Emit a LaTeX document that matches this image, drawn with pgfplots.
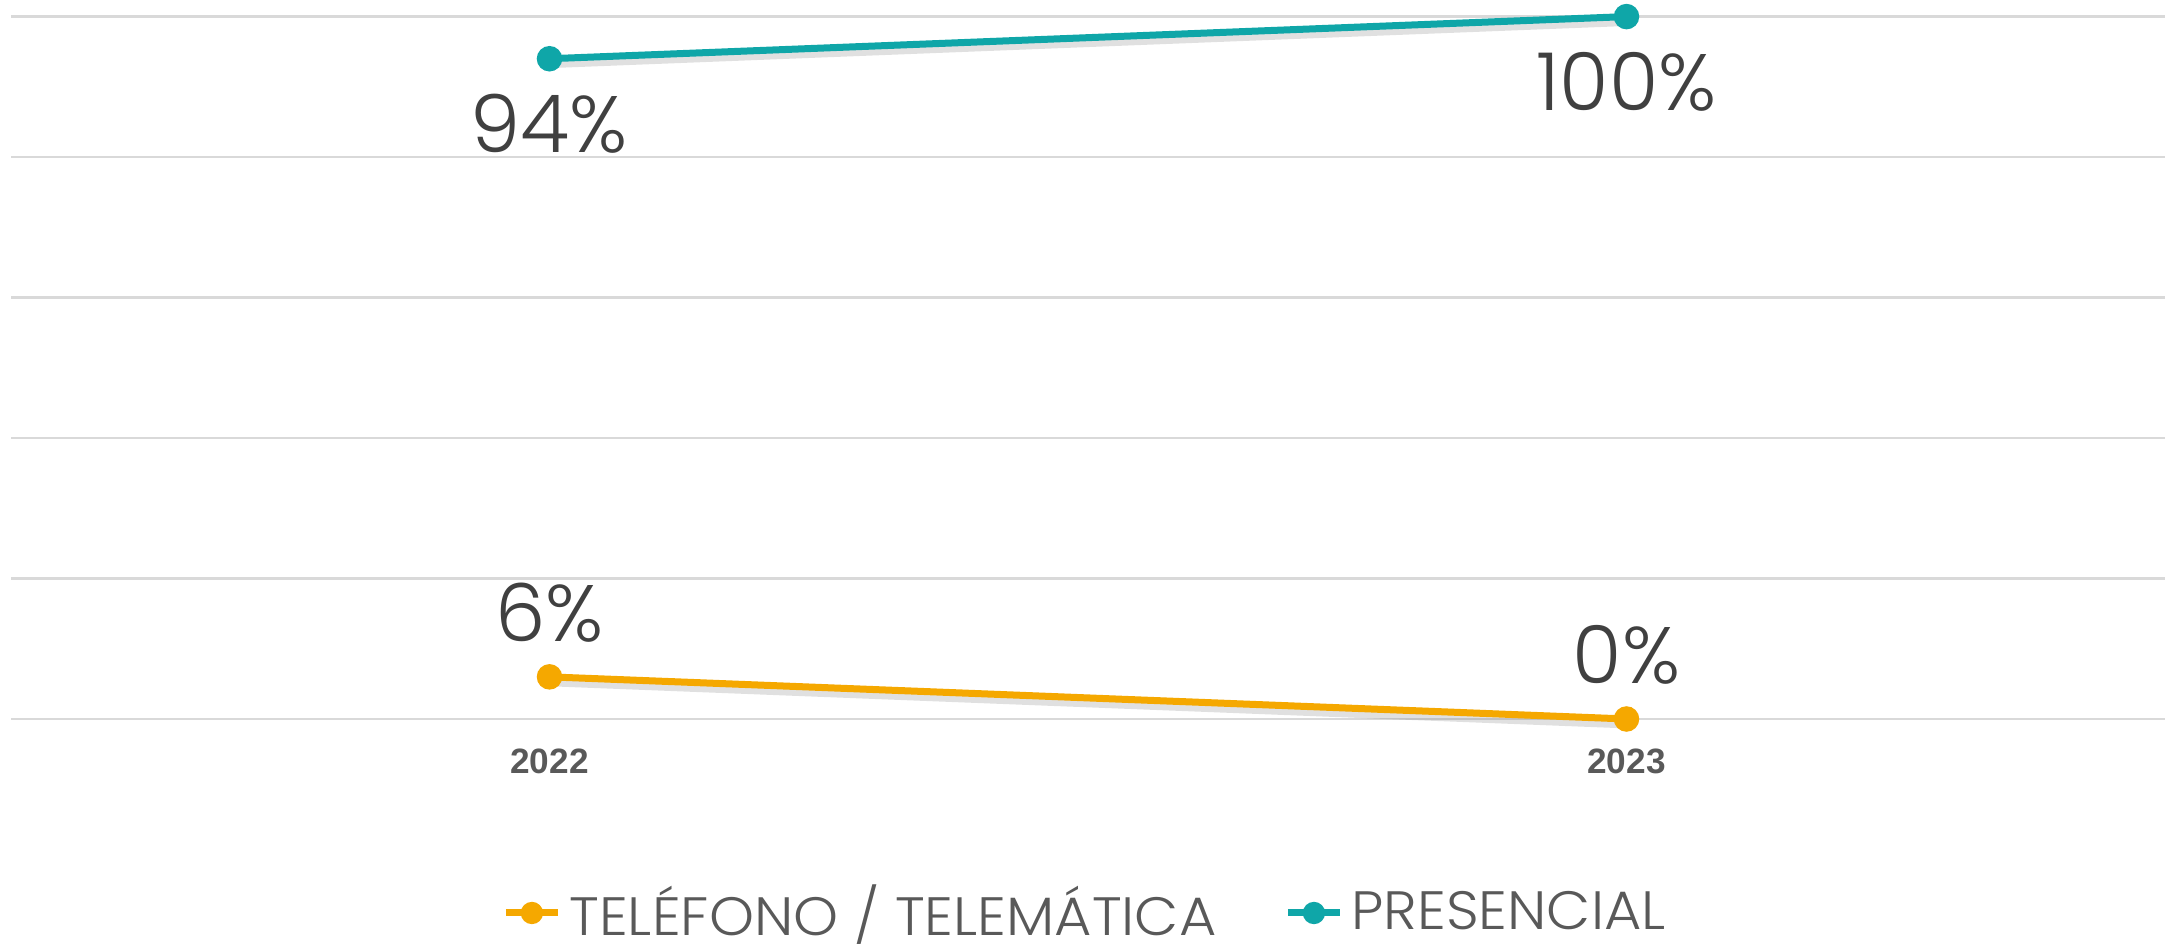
\documentclass[border=0pt]{standalone}
\usepackage{fontspec}
\setmainfont{Poppins}[UprightFont={* Light}, BoldFont={* SemiBold}]
\newfontfamily\legfont{Poppins}[UprightFont={* Light}, FakeStretch=1.06]
\newfontfamily\tickfont{Liberation Sans}
\usepackage{pgfplots}
\pgfplotsset{compat=1.18}
\definecolor{teal1}{HTML}{0FA6A8}
\definecolor{orange1}{HTML}{F5A800}
\definecolor{lab}{HTML}{404040}
\definecolor{tick}{HTML}{595959}
\definecolor{gridc}{HTML}{D9D9D9}
\begin{document}
\begin{tikzpicture}
\begin{axis}[
  at={(0,0)}, anchor=south west,
  scale only axis, width=538.5pt, height=175.6pt,
  xmin=-0.5, xmax=1.5, ymin=0, ymax=100,
  clip=false,
  /pgf/number format/assume math mode=true,
  axis line style={draw=none},
  major tick length=0pt,
  xtick={0,1}, xticklabels={2022,2023},
  xticklabel style={anchor=center, yshift=-10.5pt, font=\tickfont\bfseries\fontsize{8.8}{9}\selectfont, text=tick},
  ytick={0,20,40,60,80,100}, yticklabels={},
  ymajorgrids, grid style={gridc, line width=0.6pt},
  legend style={at={(0.5,0)}, anchor=center, yshift=-48.5pt, draw=none, fill=none,
    legend columns=2, font=\legfont\fontsize{13.5}{14}\selectfont, text=tick,
    /tikz/every even column/.append style={column sep=15pt},
    /tikz/every odd column/.append style={inner xsep=0.5pt}},
  legend image code/.code={
    \draw[#1, mark=none] (0pt,0pt) -- (13pt,0pt);
    \fill[#1] (6.5pt,0pt) circle (1.9pt);
  },
  nodes near coords={\pgfmathprintnumber{\pgfplotspointmeta}\%},
  every node near coord/.append style={font=\fontsize{20}{24}\selectfont, text=lab, anchor=center},
]
% shadows
\addplot[black!60, opacity=0.2, line width=1.9pt, yshift=-1.4pt, forget plot, nodes near coords={}] coordinates {(0,6) (1,0)};
\addplot[black!60, opacity=0.2, line width=1.9pt, yshift=-1.4pt, forget plot, nodes near coords={}] coordinates {(0,94) (1,100)};
\addplot[orange1, line width=1.75pt, mark=*, mark size=2.3pt, mark options={fill=orange1, draw=orange1},
  every node near coord/.append style={yshift=16pt}] coordinates {(0,6) (1,0)};
\addlegendentry{TELÉFONO / TELEMÁTICA}
\addplot[teal1, line width=1.75pt, mark=*, mark size=2.3pt, mark options={fill=teal1, draw=teal1},
  every node near coord/.append style={yshift=-16.25pt}] coordinates {(0,94) (1,100)};
\addlegendentry{PRESENCIAL}
\end{axis}
\pgfresetboundingbox
\path (-2.75pt,-58.25pt) rectangle (538.5pt,179.75pt);
\end{tikzpicture}
\end{document}
